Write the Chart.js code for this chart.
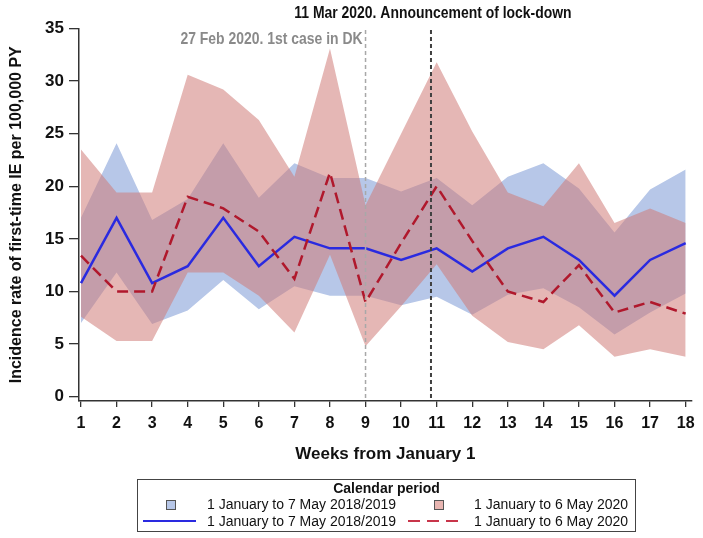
<!DOCTYPE html>
<html>
<head>
<meta charset="utf-8">
<script src="https://cdn.jsdelivr.net/npm/chart.js@4.4.1/dist/chart.umd.min.js"></script>
<style>
  html, body { margin: 0; padding: 0; background: #fff; }
  #wrap { position: relative; width: 703px; height: 538px; }
  #chart { position: absolute; left: 0; top: 0; }
  .legend {
    position: absolute; left: 137px; top: 479px; width: 497px; height: 51px;
    border: 1.5px solid #444; font-family: 'Liberation Sans', Arial, sans-serif;
    font-size: 14px; color: #111;
  }
  .legend .ttl { position: absolute; left: 0; right: 0; top: 0px; text-align: center; font-weight: bold; }
  .legend .txt { position: absolute; white-space: nowrap; }
  .legend .sq { position: absolute; width: 8px; height: 8px; border: 1px solid #555; }
  .legend .ln { position: absolute; height: 2px; }
</style>
</head>
<body>
<div id="wrap">
  <canvas id="chart" width="703" height="538"></canvas>
  <div class="legend">
    <div class="ttl">Calendar period</div>
    <span class="sq" style="left:28px;top:20px;background:#b7c7e8"></span>
    <span class="txt" style="left:69px;top:16px">1 January to 7 May 2018/2019</span>
    <span class="sq" style="left:296px;top:20px;background:#e8b5b1"></span>
    <span class="txt" style="left:336px;top:16px">1 January to 6 May 2020</span>
    <span class="ln" style="left:5px;width:53px;top:40px;background:#2a2ae0"></span>
    <span class="txt" style="left:69px;top:33px">1 January to 7 May 2018/2019</span>
    <span class="ln" style="left:270px;width:51px;top:40px;background:repeating-linear-gradient(90deg,#c8354a 0 12px,transparent 12px 19px)"></span>
    <span class="txt" style="left:336px;top:33px">1 January to 6 May 2020</span>
  </div>
</div>
<script>
const weeks = [1, 2, 3, 4, 5, 6, 7, 8, 9, 10, 11, 12, 13, 14, 15, 16, 17, 18];
const yTicks = [0, 5, 10, 15, 20, 25, 30, 35];

// 1 January to 7 May 2018/2019
const rate1819 = [10.8, 17.0, 10.8, 12.4, 17.0, 12.4, 15.2, 14.1, 14.1, 13.0, 14.1, 11.9, 14.1, 15.2, 13.0, 9.6, 13.0, 14.6];
const lower1819 = [7.0, 11.8, 6.9, 8.2, 11.1, 8.3, 10.5, 9.6, 9.6, 8.7, 9.5, 7.8, 9.7, 10.3, 8.5, 5.9, 8.0, 9.8];
const upper1819 = [17.0, 24.1, 16.8, 18.8, 24.1, 18.9, 22.2, 20.8, 20.8, 19.5, 20.8, 18.2, 20.9, 22.2, 19.8, 15.6, 19.7, 21.6];

// 1 January to 6 May 2020
const rate2020 = [13.4, 10.0, 10.0, 19.0, 17.9, 15.7, 11.2, 21.3, 9.0, 14.6, 20.0, 14.8, 10.0, 9.0, 12.5, 8.0, 9.0, 7.9];
const lower2020 = [7.6, 5.3, 5.3, 11.8, 11.8, 9.6, 6.1, 13.5, 4.8, 8.6, 12.6, 7.7, 5.2, 4.5, 6.8, 3.8, 4.5, 3.8];
const upper2020 = [23.5, 19.4, 19.4, 30.6, 29.2, 26.3, 20.9, 33.1, 18.2, 25.0, 31.8, 25.2, 19.4, 18.1, 22.2, 16.5, 17.9, 16.5];

const events = [
  { week: 9, label: '27 Feb 2020. 1st case in DK', color: '#a8a8a8', text: '#8a8a8a' },
  { week: 10.84, label: '11 Mar 2020. Announcement of lock-down', color: '#404040', text: '#111' }
];

const regular = "'Liberation Sans', Arial, sans-serif";

const pts = arr => arr.map((v, i) => ({ x: weeks[i], y: v }));
const band = (data, color, order, fill) => ({
  data: pts(data), borderWidth: 0, pointRadius: 0, backgroundColor: color, fill: fill, order: order, tension: 0
});

// condensed-looking bold label: squeeze horizontally
function narrowText(ctx, text, x, y, align, color) {
  const sx = 0.82;
  ctx.save();
  ctx.font = 'bold 17px ' + regular;
  ctx.textBaseline = 'middle';
  ctx.textAlign = align;
  ctx.fillStyle = color;
  ctx.translate(x, y);
  ctx.scale(sx, 1);
  ctx.fillText(text, 0, 0);
  ctx.restore();
}

// vertical event lines + their labels
const eventLines = {
  id: 'eventLines',
  afterDatasetsDraw(chart) {
    const { ctx, scales: { x } } = chart;
    const top = 30, bottom = 400;
    ctx.save();
    events.forEach((ev, i) => {
      const px = x.getPixelForValue(ev.week);
      ctx.beginPath();
      ctx.setLineDash([4, 3]);
      ctx.lineWidth = i === 0 ? 1.5 : 2;
      ctx.strokeStyle = ev.color;
      ctx.moveTo(px, top);
      ctx.lineTo(px, bottom);
      ctx.stroke();
    });
    ctx.restore();
    narrowText(ctx, events[0].label, x.getPixelForValue(events[0].week) - 3, 39, 'right', events[0].text);
    narrowText(ctx, events[1].label, x.getPixelForValue(events[1].week) + 2, 13, 'center', events[1].text);
  }
};

new Chart(document.getElementById('chart'), {
  type: 'line',
  data: {
    datasets: [
      band(upper1819, 'rgb(183,199,232)', 6, '+1'),
      band(lower1819, 'rgb(183,199,232)', 5, false),
      band(upper2020, 'rgba(207,122,118,0.54)', 4, '+1'),
      band(lower2020, 'rgba(207,122,118,0.54)', 3, false),
      {
        data: pts(rate1819), borderColor: '#2a2ae0', borderWidth: 2.5,
        pointRadius: 0, fill: false, order: 2, tension: 0
      },
      {
        data: pts(rate2020), borderColor: '#b0182c', borderWidth: 2.5, borderDash: [11, 6],
        pointRadius: 0, fill: false, order: 1, tension: 0
      }
    ]
  },
  options: {
    responsive: false,
    animation: false,
    layout: { padding: { top: 28.5, right: 11.3, bottom: 67, left: 0 } },
    plugins: { legend: { display: false }, tooltip: { enabled: false } },
    scales: {
      x: {
        type: 'linear',
        min: 0.944,
        max: 18.17,
        afterBuildTicks: s => { s.ticks = weeks.map(v => ({ value: v })); },
        afterFit: s => { s.height = 70; },
        grid: { drawOnChartArea: false, tickLength: 6, color: '#333', lineWidth: 1.3 },
        border: { color: '#333', width: 1.5 },
        ticks: { color: '#111', padding: 7, font: { family: regular, size: 16, weight: 'bold' }, maxRotation: 0 },
        title: {
          display: true, text: 'Weeks from January 1', color: '#111',
          font: { family: regular, size: 17, weight: 'bold' }, padding: { top: 0, bottom: 6 }
        }
      },
      y: {
        min: -0.41,
        max: 35,
        afterBuildTicks: s => { s.ticks = yTicks.map(v => ({ value: v })); },
        afterFit: s => { s.width = 79; },
        grid: { drawOnChartArea: false, tickLength: 10, color: '#333', lineWidth: 1.3 },
        border: { color: '#333', width: 1.5 },
        ticks: { color: '#111', padding: 5, font: { family: regular, size: 17, weight: 'bold' } },
        title: {
          display: true, text: 'Incidence rate of first-time IE per 100,000 PY', color: '#111',
          font: { family: regular, size: 16, weight: 'bold' }, padding: { top: 7, bottom: 0 }
        }
      }
    }
  },
  plugins: [eventLines]
});
</script>
</body>
</html>
